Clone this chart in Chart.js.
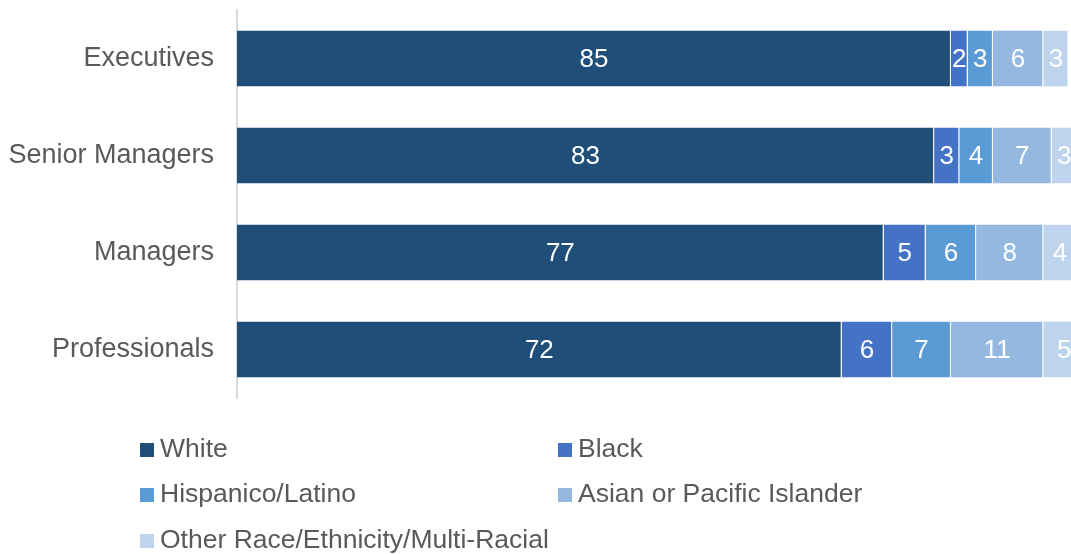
<!DOCTYPE html>
<html>
<head>
<meta charset="utf-8">
<script src="https://cdn.jsdelivr.net/npm/chart.js@4.4.1/dist/chart.umd.min.js"></script>
<style>
  html, body { margin: 0; padding: 0; background: #fff; }
  #wrap { width: 1071px; height: 554px; position: relative; }
</style>
</head>
<body>
<div id="wrap"><canvas id="raceChart"></canvas></div>
<script>
const categories = ["Executives", "Senior Managers", "Managers", "Professionals"];
const seriesNames = ["White", "Black", "Hispanico/Latino", "Asian or Pacific Islander", "Other Race/Ethnicity/Multi-Racial"];
const white = [85, 83, 77, 72];
const black = [2, 3, 5, 6];
const hispanic = [3, 4, 6, 7];
const asian = [6, 7, 8, 11];
const other = [3, 3, 4, 5];
const colors = ["#1f4e79", "#4472c4", "#5b9bd5", "#95b8e0", "#bed3ec"];

const FONT = "'Liberation Sans', Arial, sans-serif";
const seriesValues = [white, black, hispanic, asian, other];

// value labels inside every segment
const valueLabels = {
  id: "valueLabels",
  afterDatasetsDraw(chart) {
    const ctx = chart.ctx;
    ctx.save();
    ctx.font = "26px " + FONT;
    ctx.fillStyle = "#ffffff";
    ctx.textAlign = "center";
    ctx.textBaseline = "middle";
    chart.data.datasets.forEach((ds, i) => {
      chart.getDatasetMeta(i).data.forEach((bar, j) => {
        const cx = (bar.x + bar.base) / 2;
        ctx.fillText(String(ds.data[j]), cx, bar.y + 1);
      });
    });
    ctx.restore();
  }
};

// two-column legend under the plot
const gridLegend = {
  id: "gridLegend",
  afterDraw(chart) {
    const ctx = chart.ctx;
    ctx.save();
    ctx.font = "26.5px " + FONT;
    ctx.textBaseline = "middle";
    ctx.textAlign = "left";
    const colX = [140, 558];
    const rowY = [450, 495, 541];
    chart.data.datasets.forEach((ds, i) => {
      const x = colX[i % 2];
      const y = rowY[Math.floor(i / 2)];
      ctx.fillStyle = ds.backgroundColor;
      ctx.fillRect(x, y - 7, 14, 14);
      ctx.fillStyle = "#595959";
      ctx.fillText(ds.label, x + 20, y);
    });
    ctx.restore();
  }
};

new Chart(document.getElementById("raceChart"), {
  type: "bar",
  data: {
    labels: categories,
    datasets: seriesNames.map((name, i) => ({
      label: name,
      data: seriesValues[i],
      backgroundColor: colors[i],
      borderColor: "#ffffff",
      borderWidth: { left: 0, right: 1, top: 0, bottom: 0 },
      borderSkipped: false,
      categoryPercentage: 1,
      barPercentage: 0.577
    }))
  },
  options: {
    indexAxis: "y",
    responsive: true,
    maintainAspectRatio: false,
    animation: false,
    layout: { padding: { top: 10, bottom: 156, left: 0, right: 0 } },
    plugins: {
      legend: { display: false },
      tooltip: { enabled: false }
    },
    scales: {
      x: {
        stacked: true,
        display: false,
        min: 0,
        max: 99.3
      },
      y: {
        stacked: true,
        grid: { display: false, drawTicks: false },
        border: { display: true, color: "#d9d9d9", width: 2 },
        ticks: {
          color: "#595959",
          font: { family: FONT, size: 27 },
          padding: 23
        },
        afterFit(scale) {
          scale.width = 237;
          scale.paddingTop = 0;
          scale.paddingBottom = 0;
        }
      }
    }
  },
  plugins: [valueLabels, gridLegend]
});
</script>
</body>
</html>
